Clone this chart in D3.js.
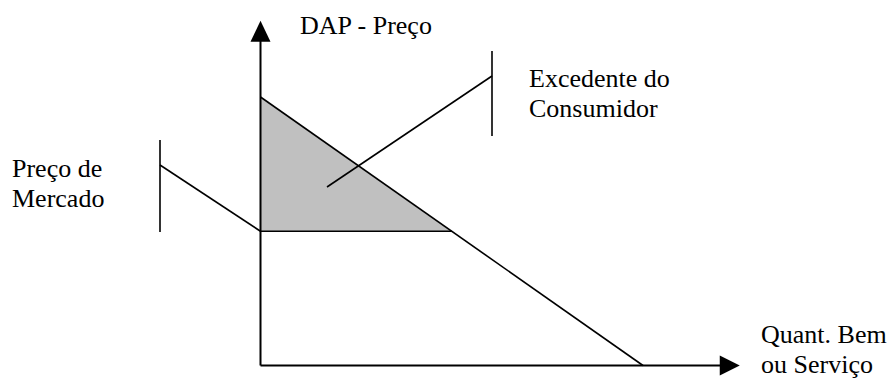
<!DOCTYPE html>
<html>
<head>
<meta charset="utf-8" />
<title>Excedente do Consumidor</title>
<script src="https://d3js.org/d3.v7.min.js"></script>
<style>
html, body { margin: 0; padding: 0; background: #fff; }
svg { display: block; }
text { font-family: "Liberation Serif", "Times New Roman", serif; font-size: 26px; fill: #000; }
</style>
</head>
<body>
<script>
// demand curve (quantity, price) in abstract units
let demandQ = [0, 10];
let demandP = [10, 0];
let marketPrice = 5;
// axis extent (where the arrows end)
let axisMax = {q: 12.53, p: 12.84};

let yLabel = ['DAP - Preço'];
let xLabel = ['Quant. Bem', 'ou Serviço'];
let priceLabel = ['Preço de', 'Mercado'];
let surplusLabel = ['Excedente do', 'Consumidor'];

let width = 891, height = 378;
let svg = d3.select('body').append('svg').attr('width', width).attr('height', height);

let x = d3.scaleLinear().domain([0, 10]).range([260.5, 643]);
let y = d3.scaleLinear().domain([0, 10]).range([365.5, 97]);

// quantity demanded at market price
let qMarket = d3.scaleLinear().domain(demandP).range(demandQ)(marketPrice);

// consumer surplus
svg.append('path')
    .attr('d', d3.line()([[x(0), y(demandP[0])], [x(0), y(marketPrice)], [x(qMarket), y(marketPrice)]]) + 'Z')
    .attr('fill', '#c0c0c0');

let lineStyle = (sel) => sel.attr('stroke', '#000').attr('stroke-width', 1.6).attr('fill', 'none');

// market price line
svg.append('line').call(lineStyle)
    .attr('x1', x(0)).attr('y1', y(marketPrice)).attr('x2', x(qMarket)).attr('y2', y(marketPrice));

// demand
svg.append('line').call(lineStyle)
    .attr('x1', x(demandQ[0])).attr('y1', y(demandP[0])).attr('x2', x(demandQ[1])).attr('y2', y(demandP[1]));

// axes
svg.append('line').call(lineStyle).attr('stroke-width', 2)
    .attr('x1', x(0)).attr('y1', y(0)).attr('x2', x(0)).attr('y2', y(axisMax.p) + 10);
svg.append('line').call(lineStyle).attr('stroke-width', 2)
    .attr('x1', x(0)).attr('y1', y(0)).attr('x2', x(axisMax.q) - 10).attr('y2', y(0));

let tipY = [x(0), y(axisMax.p)];
svg.append('path').attr('fill', '#000')
    .attr('d', d3.line()([tipY, [tipY[0] - 10, tipY[1] + 21], [tipY[0] + 10, tipY[1] + 21]]) + 'Z');
let tipX = [x(axisMax.q), y(0)];
svg.append('path').attr('fill', '#000')
    .attr('d', d3.line()([tipX, [tipX[0] - 20, tipX[1] - 10], [tipX[0] - 20, tipX[1] + 10]]) + 'Z');

// pointer for market price label
svg.append('line').call(lineStyle).attr('x1', 160).attr('y1', 140).attr('x2', 160).attr('y2', 232);
svg.append('path').call(lineStyle).attr('d', d3.line()([[160, 165], [x(0), y(marketPrice)]]));

// pointer for surplus label
svg.append('line').call(lineStyle).attr('x1', 492).attr('y1', 51).attr('x2', 492).attr('y2', 136);
svg.append('path').call(lineStyle).attr('d', d3.line()([[492, 76], [327, 187]]));

// labels
let addLabel = (lines, lx, ly) => {
    let t = svg.append('text').attr('x', lx).attr('y', ly);
    lines.forEach((s, i) => t.append('tspan').attr('x', lx).attr('dy', i ? 29.5 : 0).text(s));
};
addLabel(yLabel, 300, 34);
addLabel(surplusLabel, 529, 87);
addLabel(priceLabel, 12, 177);
addLabel(xLabel, 761, 343);
</script>
</body>
</html>
